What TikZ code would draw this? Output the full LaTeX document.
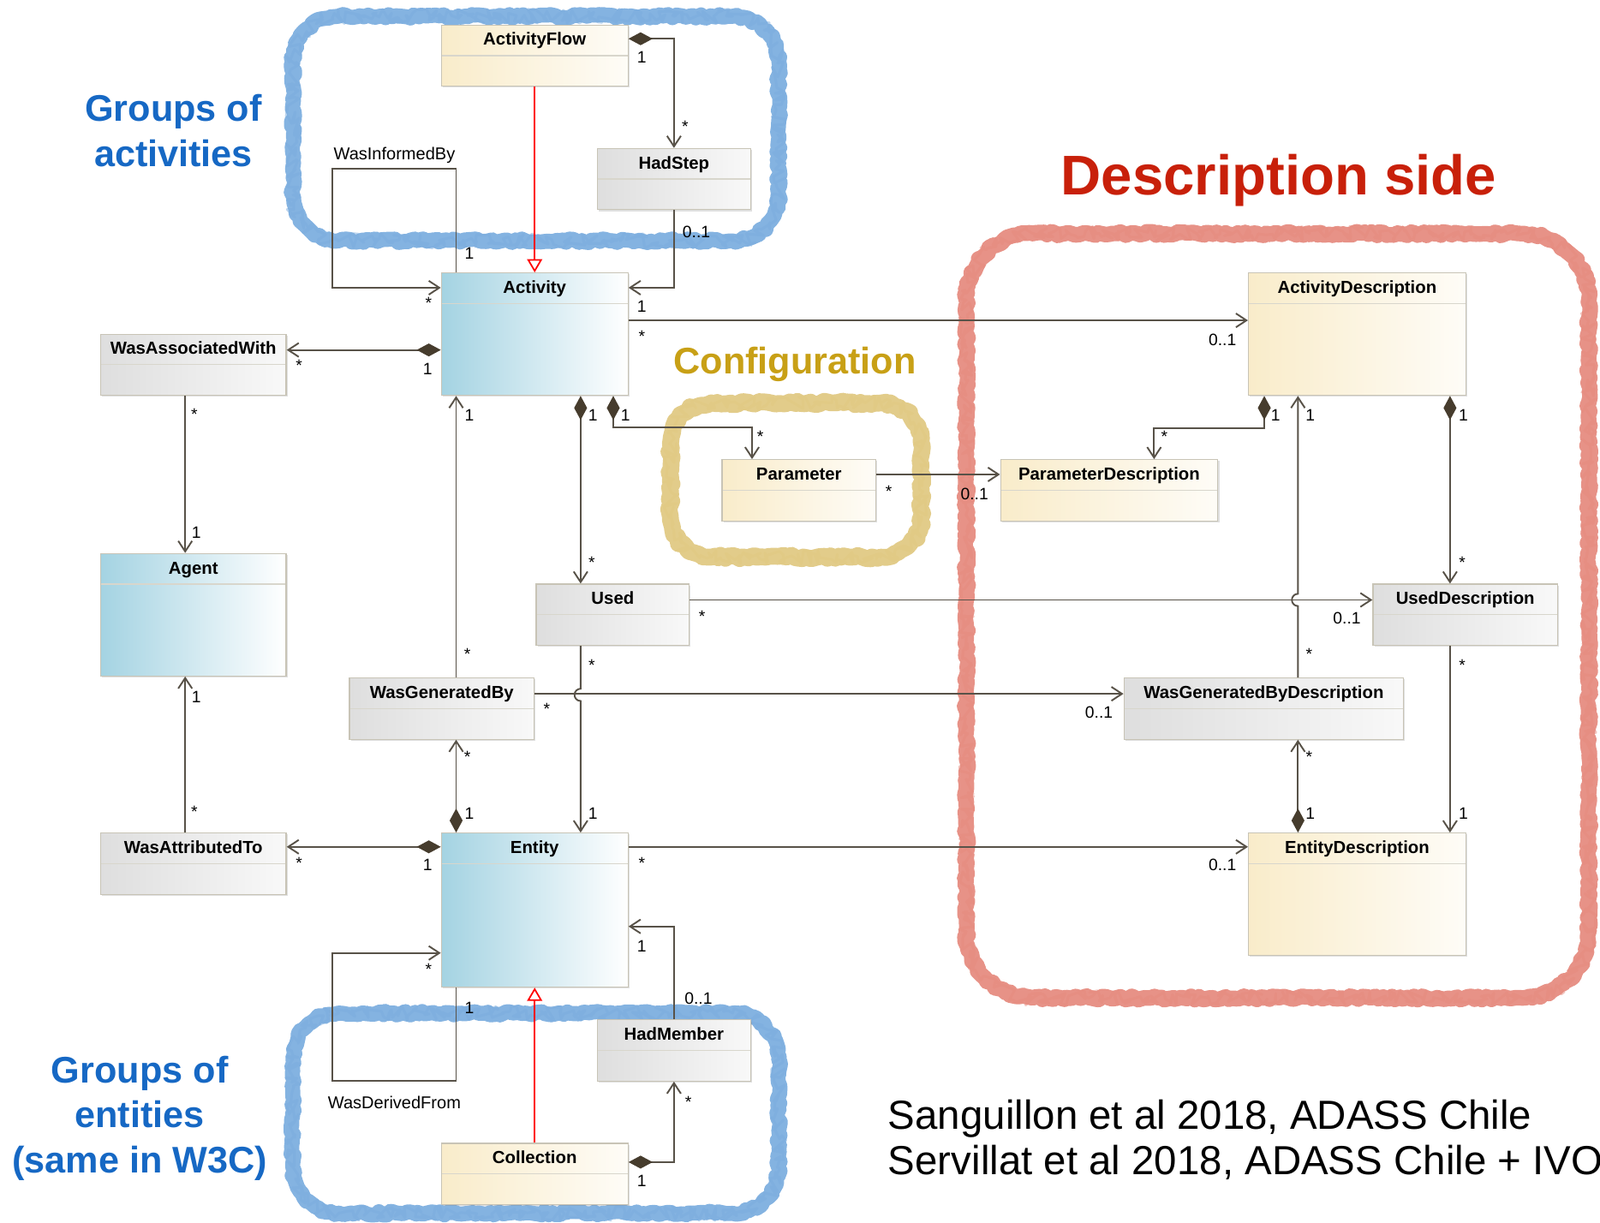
\documentclass[tikz,border=0pt]{standalone}
\usepackage{fontspec}
\setmainfont{Liberation Sans}
\usetikzlibrary{arrows.meta,positioning,calc,decorations.pathmorphing,shadows}

\definecolor{lineclr}{RGB}{88,82,72}
\definecolor{dmd}{RGB}{70,60,45}
\definecolor{bluefill}{RGB}{164,211,226}
\definecolor{yelfill}{RGB}{249,236,202}
\definecolor{grayfill}{RGB}{222,222,222}
\definecolor{boxline}{RGB}{200,196,182}
\definecolor{chalkblue}{RGB}{122,172,222}
\definecolor{chalkred}{RGB}{229,137,125}
\definecolor{chalkyel}{RGB}{224,200,128}
\definecolor{txtblue}{RGB}{22,104,196}
\definecolor{txtred}{RGB}{200,32,10}
\definecolor{txtgold}{RGB}{200,160,22}

\begin{document}
\begin{tikzpicture}[x=0.011913cm, y=-0.011913cm,
    cls/.style={draw=boxline, line width=0.35pt, anchor=north west, inner xsep=0pt, inner ysep=0pt,
      text height=0.238cm, font=\fontsize{5.8}{7}\selectfont\bfseries,
      drop shadow={shadow xshift=0.5pt, shadow yshift=-0.5pt, opacity=0.25},
      path picture={\draw[boxline!70, line width=0.35pt] ([yshift=-0.357cm]path picture bounding box.north west) -- ([yshift=-0.357cm]path picture bounding box.north east);}},
    small/.style={text depth=0.477cm},
    big/.style={text depth=1.192cm},
    bluecls/.style={cls, left color=bluefill, right color=white},
    yelcls/.style={cls, left color=yelfill, right color=yelfill!15},
    graycls/.style={cls, left color=grayfill, right color=grayfill!20},
    assoc/.style={draw=lineclr, line width=0.55pt, -{Straight Barb[length=3.5pt, width=4.6pt]}},
    comp/.style={assoc, {Diamond[length=8pt, width=4.3pt, fill=dmd, color=dmd]}-{Straight Barb[length=3.5pt, width=4.6pt]}},
    gen/.style={draw=red, line width=0.5pt, -{Triangle[open, length=4.4pt, width=5pt, fill=white]}},
    mult/.style={font=\fontsize{5.5}{6}\selectfont, inner sep=0pt},
    role/.style={font=\fontsize{5.7}{7}\selectfont},
    grouptxt/.style={font=\fontsize{12.3}{15.2}\selectfont\bfseries, align=center},
    chalkline/.style={decorate, decoration={random steps, segment length=1.2pt, amplitude=0.6pt}, line join=round, opacity=0.92},
    chalkfuzz/.style={decorate, decoration={random steps, segment length=0.9pt, amplitude=2.4pt}, line join=round, opacity=0.5}]
  \useasboundingbox (0,0) rectangle (1568,1198);
  \newcommand{\chalkloop}[7]{%
    \foreach \sty/\lw in {chalkline/#7, chalkfuzz/0.9pt}
      \draw[\sty, draw=#1, line width=\lw] (#2,#3+#6) arc[start angle=180, end angle=270, radius=#6] -- (#4-#6,#3)
        arc[start angle=270, end angle=360, radius=#6] -- (#4,#5-#6) arc[start angle=0, end angle=90, radius=#6]
        -- (#2+#6,#5) arc[start angle=90, end angle=180, radius=#6] -- cycle;}
  % hand drawn groups
  \chalkloop{chalkblue}{287}{16}{763}{236}{45}{5pt}
  \chalkloop{chalkblue}{287}{993}{763}{1189}{45}{5pt}
  \chalkloop{chalkred}{947}{229}{1557}{978}{65}{5.2pt}
  \chalkloop{chalkyel}{657}{395}{903}{546}{40}{5.6pt}
  \node[grouptxt, text=txtblue] (grpact) at (170,128) {Groups of\\activities};
  \node[grouptxt, font=\fontsize{12.3}{14.9}\selectfont\bfseries, text=txtblue] (grpent) at (137,1096) {Groups of\\entities\\(same in W3C)};
  \node[font=\fontsize{18.6}{21}\selectfont\bfseries, text=txtred] (descside) at (1253,177) {Description side};
  \node[grouptxt, text=txtgold] (config) at (779,357) {Configuration};
  \node[font=\fontsize{13.5}{14.9}\selectfont, align=left, anchor=west] (cite) at (860,1117) {Sanguillon et al 2018, ADASS Chile\\Servillat et al 2018, ADASS Chile + IVOA};
  % classes
  \node[yelcls, small, minimum width=2.180cm] (afl) at (432,24) {ActivityFlow};
  \node[graycls, small, minimum width=1.787cm] (hs) at (585,145) {HadStep};
  \node[bluecls, big, minimum width=2.180cm] (act) at (432,267) {Activity};
  \node[graycls, small, minimum width=2.168cm] (waw) at (98,327) {WasAssociatedWith};
  \node[bluecls, big, minimum width=2.168cm] (agent) at (98,542) {Agent};
  \node[yelcls, small, minimum width=1.799cm] (par) at (707,450) {Parameter};
  \node[yelcls, small, minimum width=2.5375cm] (pard) at (980,450) {ParameterDescription};
  \node[yelcls, big, minimum width=2.5375cm] (actd) at (1223,267) {ActivityDescription};
  \node[graycls, small, minimum width=1.787cm] (used) at (525,572) {Used};
  \node[graycls, small, minimum width=2.156cm] (usedd) at (1345,572) {UsedDescription};
  \node[graycls, small, minimum width=2.156cm] (wgb) at (342,664) {WasGeneratedBy};
  \node[graycls, small, minimum width=3.264cm] (wgbd) at (1101,664) {WasGeneratedByDescription};
  \node[graycls, small, minimum width=2.168cm] (wat) at (98,816) {WasAttributedTo};
  \node[bluecls, text depth=1.561cm, minimum width=2.180cm] (ent) at (432,816) {Entity};
  \node[yelcls, big, minimum width=2.5375cm] (entd) at (1223,816) {EntityDescription};
  \node[graycls, small, minimum width=1.787cm] (hm) at (585,999) {HadMember};
  \node[yelcls, small, minimum width=2.180cm] (coll) at (432,1120) {Collection};
  % activity side
  \draw[comp] ($(afl.north east)+(0,14)$) node[mult, shift={(13,18)}] {1} -| (hs.north) node[mult, shift={(11,-21)}] {*};
  \draw[assoc] (hs.south) node[mult, shift={(22,21)}] {0..1} |- ($(act.north east)+(0,15)$) node[mult, shift={(13,18)}] {1};
  \draw[gen] (afl.south) -- (act.north);
  \draw[assoc] ($(act.north west)+(15,0)$) node[mult, shift={(13,-19)}] {1} -- ++(0,-102)
    -- node[role, above=-1.8pt] {WasInformedBy} ++(-121,0) |- ($(act.north west)+(0,15)$) node[mult, shift={(-12,15)}] {*};
  \draw[comp] ($(act.north west)+(0,76)$) node[mult, shift={(-13,19)}] {1} -- ($(waw.north east)+(0,16)$) node[mult, shift={(12,15)}] {*};
  \draw[assoc] ($(waw.south)+(-8,0)$) node[mult, shift={(9,18)}] {*} -- ($(agent.north)+(-8,0)$) node[mult, shift={(11,-20)}] {1};
  \draw[assoc] ($(wat.north)+(-8,0)$) node[mult, shift={(9,-20)}] {*} -- ($(agent.south)+(-8,0)$) node[mult, shift={(11,20)}] {1};
  \draw[comp] ($(ent.north west)+(0,14)$) node[mult, shift={(-13,18)}] {1} -- ($(wat.north east)+(0,14)$) node[mult, shift={(12,16)}] {*};
  \draw[assoc] ($(act.north east)+(0,47)$) node[mult, shift={(13,16)}] {*} -- ($(actd.north west)+(0,47)$) node[mult, shift={(-25,19)}] {0..1};
  \draw[comp] ($(act.south west)+(169,0)$) node[mult, shift={(12,19)}] {1} |- ($(par.north west)+(30,-31)$) -- ($(par.north west)+(30,0)$) node[mult, shift={(8,-22)}] {*};
  \draw[comp] ($(act.south west)+(137,0)$) node[mult, shift={(12,19)}] {1} -- ($(used.north west)+(44,0)$) node[mult, shift={(11,-21)}] {*};
  \draw[assoc] ($(wgb.north west)+(105,0)$) node[mult, shift={(11,-23)}] {*} -- ($(act.south west)+(15,0)$) node[mult, shift={(13,19)}] {1};
  % description side
  \draw[assoc] ($(par.north east)+(0,15)$) node[mult, shift={(12,17)}] {*} -- ($(pard.north west)+(0,15)$) node[mult, shift={(-25,19)}] {0..1};
  \draw[comp] ($(actd.south west)+(16,0)$) node[mult, shift={(11,19)}] {1} |- ($(pard.north west)+(151,-30)$) -- ($(pard.north west)+(151,0)$) node[mult, shift={(10,-22)}] {*};
  \draw[assoc] ($(wgbd.north west)+(171,0)$) node[mult, shift={(11,-23)}] {*} -- ++(0,-70) arc[start angle=90, end angle=270, radius=6]
    -- ($(actd.south west)+(49,0)$) node[mult, shift={(12,19)}] {1};
  \draw[comp] ($(actd.south west)+(198,0)$) node[mult, shift={(13,19)}] {1} -- ($(usedd.north west)+(76,0)$) node[mult, shift={(12,-21)}] {*};
  \draw[assoc] ($(used.north east)+(0,16)$) node[mult, shift={(12,16)}] {*} -- ($(usedd.north west)+(0,16)$) node[mult, shift={(-25,18)}] {0..1};
  \draw[assoc] ($(wgb.north east)+(0,16)$) node[mult, shift={(12,15)}] {*} -- ($(wgbd.north west)+(0,16)$) node[mult, shift={(-24,18)}] {0..1};
  \draw[assoc] ($(used.south west)+(44,0)$) node[mult, shift={(11,19)}] {*} -- ++(0,42) arc[start angle=270, end angle=90, radius=6]
    -- ($(ent.north west)+(137,0)$) node[mult, shift={(12,-19)}] {1};
  \draw[comp] ($(ent.north west)+(15,0)$) node[mult, shift={(13,-19)}] {1} -- ($(wgb.south west)+(105,0)$) node[mult, shift={(11,17)}] {*};
  \draw[assoc] ($(ent.north east)+(0,14)$) node[mult, shift={(13,16)}] {*} -- ($(entd.north west)+(0,14)$) node[mult, shift={(-25,18)}] {0..1};
  \draw[comp] ($(entd.north west)+(49,0)$) node[mult, shift={(12,-19)}] {1} -- ($(wgbd.south west)+(171,0)$) node[mult, shift={(11,17)}] {*};
  \draw[assoc] ($(usedd.south west)+(76,0)$) node[mult, shift={(12,19)}] {*} -- ($(entd.north west)+(198,0)$) node[mult, shift={(13,-19)}] {1};
  % entity group
  \draw[assoc] ($(ent.south west)+(15,0)$) node[mult, shift={(13,20)}] {1} -- ++(0,91)
    -- node[role, below=1.5pt] {WasDerivedFrom} ++(-121,0) |- ($(ent.north west)+(0,118)$) node[mult, shift={(-12,16)}] {*};
  \draw[assoc] (hm.north) node[mult, shift={(24,-20)}] {0..1} |- ($(ent.north east)+(0,92)$) node[mult, shift={(13,19)}] {1};
  \draw[gen] (coll.north) -- (ent.south);
  \draw[comp] ($(coll.north east)+(0,19)$) node[mult, shift={(13,18)}] {1} -| (hm.south) node[mult, shift={(14,20)}] {*};
\end{tikzpicture}
\end{document}
